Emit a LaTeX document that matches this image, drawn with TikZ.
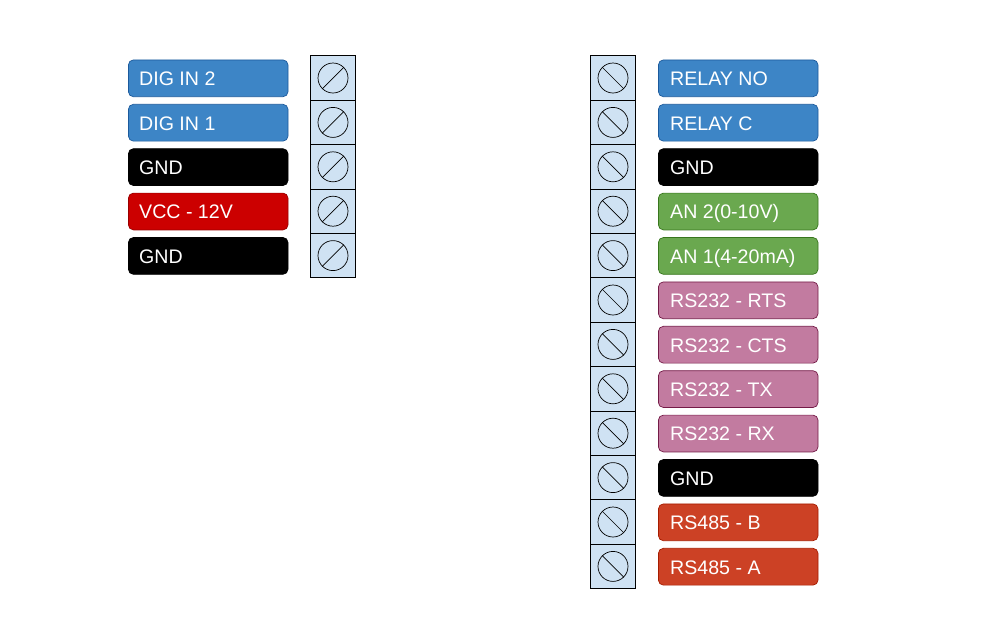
\documentclass[tikz,border=0pt]{standalone}
\usepackage{fontspec}
\setmainfont{Liberation Sans}
\definecolor{blueF}{HTML}{3D85C6}\definecolor{blueD}{HTML}{1C5A9C}
\definecolor{redF}{HTML}{CC0000}\definecolor{redD}{HTML}{990000}
\definecolor{greenF}{HTML}{6AA84F}\definecolor{greenD}{HTML}{38761D}
\definecolor{pinkF}{HTML}{C27BA0}\definecolor{pinkD}{HTML}{741B47}
\definecolor{orangeF}{HTML}{CC4125}\definecolor{orangeD}{HTML}{A61C00}
\definecolor{cellF}{HTML}{CFE2F3}
\tikzset{x=1pt,y=-1pt,
 lab/.style={minimum width=159.6pt,minimum height=36.8pt,rounded corners=5pt,inner sep=0pt,line width=.7pt},
 labtext/.style={text=white,font=\fontsize{19.6}{22}\selectfont,anchor=base west,inner sep=0pt},
 cell/.style={draw=black,fill=cellF,minimum width=45pt,minimum height=44.4pt,inner sep=0pt,line width=.7pt},
 screw/.style={draw=black,circle,minimum size=30pt,inner sep=0pt,line width=.7pt}}
\begin{document}
\begin{tikzpicture}
\useasboundingbox (0,0) rectangle (986,641);
\foreach \i/\t/\f/\d in {0/DIG IN 2/blueF/blueD,1/DIG IN 1/blueF/blueD,2/GND/black/black,3/VCC - 12V/redF/redD,4/GND/black/black}{
 \node[lab,fill=\f,draw=\d] (l\i) at (208.2,{78.3+44.4*\i}) {};
 \node[labtext] (lt\i) at (139,{85.7+44.4*\i}) {\t};
 \node[cell] (c\i) at (333,{78+44.4*\i}) {};
 \node[screw] (s\i) at (c\i) {};
 \draw[line width=.7pt] (s\i.225) -- (s\i.45);
}
\foreach \i/\t/\f/\d in {0/RELAY NO/blueF/blueD,1/RELAY C/blueF/blueD,2/GND/black/black,3/AN 2(0-10V)/greenF/greenD,4/AN 1(4-20mA)/greenF/greenD,5/RS232 - RTS/pinkF/pinkD,6/RS232 - CTS/pinkF/pinkD,7/RS232 - TX/pinkF/pinkD,8/RS232 - RX/pinkF/pinkD,9/GND/black/black,10/RS485 - B/orangeF/orangeD,11/RS485 - A/orangeF/orangeD}{
 \node[lab,fill=\f,draw=\d] (r\i) at (738.2,{78.3+44.4*\i}) {};
 \node[labtext] (rt\i) at (670,{85.7+44.4*\i}) {\t};
 \node[cell] (d\i) at (613,{78+44.4*\i}) {};
 \node[screw] (t\i) at (d\i) {};
 \draw[line width=.7pt] (t\i.135) -- (t\i.-45);
}
\end{tikzpicture}
\end{document}
